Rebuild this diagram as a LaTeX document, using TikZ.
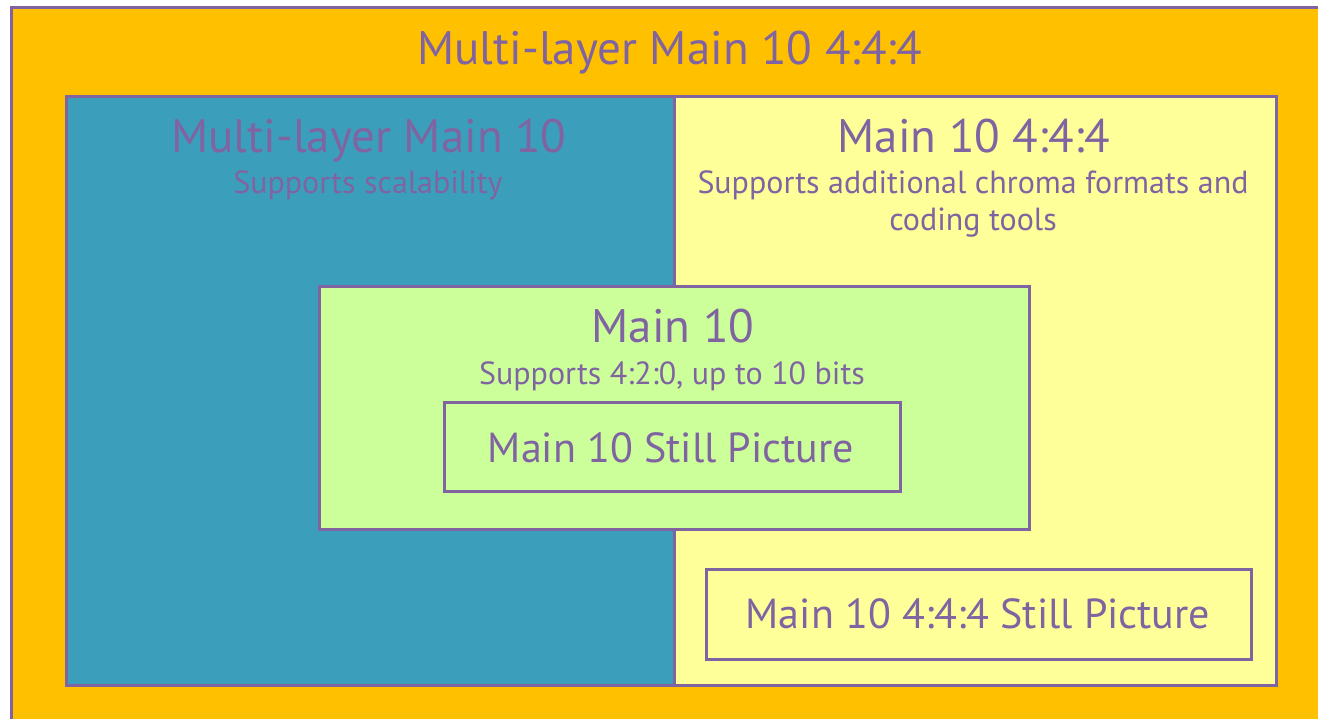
\documentclass[tikz,border=0pt]{standalone}
\usepackage{fontspec}
\setmainfont{PT Sans}
\usepackage{xcolor}
\usetikzlibrary{positioning}

\definecolor{lilac}{HTML}{8064A2}
\definecolor{amber}{HTML}{FFC000}
\definecolor{sea}{HTML}{3B9FBC}
\definecolor{lemon}{HTML}{FFFF99}
\definecolor{pale}{HTML}{CCFF99}

\begin{document}
\begin{tikzpicture}[x=1pt, y=-1pt,
  box/.style={draw=lilac, line width=2.5pt, inner sep=0pt, anchor=north west},
  big/.style={text=lilac, anchor=base, font=\fontsize{47}{50}\selectfont},
  small/.style={text=lilac, anchor=base, font=\fontsize{32}{37}\selectfont, align=center},
  still/.style={text=lilac, anchor=base, font=\fontsize{42}{44}\selectfont}]
\useasboundingbox (0,0) rectangle (1318,718);
\clip (0,0) rectangle (1318,718);

% outer profile
\node[box, fill=amber, minimum width=1320pt, minimum height=724pt] (outer) at (10,6) {};
\path (670,64) node[big] (outertitle) {Multi-layer Main 10 4:4:4};

% scalable and range extension profiles
\node[box, fill=sea, minimum width=608pt, minimum height=589pt] (scal) at (65,95) {};
\node[box, fill=lemon, minimum width=602pt, minimum height=589pt] (rext) at (673,95) {};
\path (369,152) node[big] (scaltitle) {Multi-layer Main 10};
\path (368,193) node[small] (scaltext) {Supports scalability};
\path (974,152) node[big] (rexttitle) {Main 10 4:4:4};
\path (973,230) node[small] (rexttext) {Supports additional chroma formats and\\coding tools};

% main 10
\node[box, fill=pale, minimum width=710pt, minimum height=243pt] (main) at (318,285) {};
\path (673,342) node[big] (maintitle) {Main 10};
\path (672,384) node[small] (maintext) {Supports 4:2:0, up to 10 bits};

% still picture profiles
\node[box, minimum width=456pt, minimum height=89pt] (still) at (443,401) {};
\path (671,462) node[still] (stilltext) {Main 10 Still Picture};
\node[box, minimum width=545pt, minimum height=90pt] (rextstill) at (705,568) {};
\path (978,628) node[still] (rextstilltext) {Main 10 4:4:4 Still Picture};
\end{tikzpicture}
\end{document}
